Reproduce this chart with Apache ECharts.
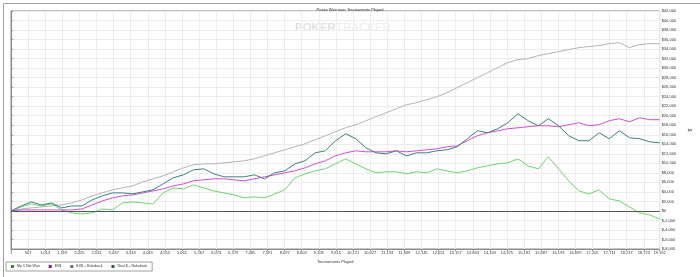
<!DOCTYPE html>
<html>
<head>
<meta charset="utf-8">
<script src="https://cdn.jsdelivr.net/npm/echarts@6/dist/echarts.min.js"></script>
<style>
html,body{margin:0;padding:0;background:#fff;}
#c{width:700px;height:277px;}
</style>
</head>
<body>
<div id="c"></div>
<script>
// Tournament numbers at which values were read
const tournaments = [1,301,601,901,1201,1501,1801,2101,2401,2701,3001,3301,3601,3901,4201,4501,4801,5101,5401,5701,6001,6301,6601,6901,7201,7501,7801,8101,8401,8701,9001,9301,9601,9901,10201,10501,10801,11101,11401,11701,12001,12301,12601,12901,13201,13501,13801,14101,14401,14701,15001,15301,15601,15901,16201,16501,16801,17101,17401,17701,18001,18301,18601,18901,19192];

const seriesNames = ["My C Net Won","EV$","EV$ + Rakeback","Real $ + Rakeback"];

const myCNetWon = [0,840,1470,1050,1470,210,-420,-630,-420,420,210,1680,1890,1680,1470,3790,4840,4630,5470,4840,4210,3790,3370,2740,2950,2740,3580,4420,6950,7790,8420,8840,9890,10950,9890,8840,8000,8210,8210,7790,8210,8000,8840,8420,8000,8420,9050,9470,9890,10100,10950,9470,8840,11370,8840,6320,4210,3580,4420,2530,2100,840,-420,-840,-1680];

const evDollars = [0,210,210,210,210,210,210,420,1260,2100,2740,3160,3370,3790,4210,4630,5260,5680,6320,6530,6740,6740,6530,6320,6740,7160,7580,8000,8420,9050,9890,10530,11580,12210,12630,12420,12420,12420,12630,12420,12630,12840,13050,13470,13680,14740,15790,16420,16840,17260,17470,17680,17890,17890,17680,18100,18520,17890,18100,18950,19370,18730,19580,19160,19160];

const evPlusRakeback = [0,400,630,840,1050,1260,1680,2320,3160,3790,4420,4840,5260,6100,6740,7370,8210,9050,9680,9890,9890,10100,10310,10530,10950,11580,12210,12840,13470,14100,14950,15790,16630,17470,18100,18950,19790,20630,21470,22310,22730,23370,24000,24840,25890,26940,28000,29050,30100,31150,31790,32000,32630,33050,33470,33890,34310,34520,34730,35150,35360,34310,34940,35150,35150];

const realPlusRakeback = [0,1050,1890,1260,1680,630,1050,1050,2320,3160,3790,3790,3580,4000,4420,5680,6950,7580,8630,8840,7790,7160,7160,7160,7580,6740,8000,8420,9890,10530,12210,12630,14740,16210,15160,13260,12210,12000,12630,11580,12210,12210,12630,12840,13470,15160,16840,16420,17260,18520,20420,18950,17890,19370,17890,15790,14740,14740,16420,15160,16840,15370,15160,14520,14310];

const lineColors = ["#6fd36f","#d050d0","#b4b4b4","#3f7f82"];
const legendColors = ["#2f8f2f","#8e1a8e","#6e6e6e","#2f5a5a"];

const allValues = [myCNetWon, evDollars, evPlusRakeback, realPlusRakeback];

const FONT = "Liberation Sans";
const chart = echarts.init(document.getElementById('c'), null, {renderer:'canvas'});

const series = allValues.map((vals, i) => ({
  name: seriesNames[i],
  type: 'line',
  data: tournaments.map((t, j) => [t - 1, vals[j]]),
  showSymbol: false,
  symbol: 'none',
  lineStyle: {color: lineColors[i], width: 1},
  itemStyle: {color: lineColors[i]},
  z: i === 2 ? 2 : 3,
  animation: false
}));
series[0].markLine = {
  silent: true, symbol: 'none', label: {show: false},
  lineStyle: {color: '#555', width: 1, type: 'solid'},
  data: [{yAxis: 0}], animation: false
};

chart.setOption({
  animation: false,
  backgroundColor: '#fff',
  textStyle: {fontFamily: FONT},
  title: {
    text: 'Prizes Won over Tournaments Played',
    left: 'center', top: 3,
    textStyle: {fontSize: 4, fontWeight: 'normal', color: '#333', fontFamily: FONT}
  },
  graphic: [
    {type: 'rect', left: 1, top: 1, shape: {width: 697, height: 274},
     style: {fill: 'none', stroke: '#a0a0a0', lineWidth: 1}, z: 0, silent: true},
    {type: 'text', left: 295, top: 22, z: 0, silent: true,
     style: {text: '{a|POKER}{b|TRACKER}', rich: {
       a: {fontSize: 11.5, fontWeight: 'bold', fill: '#e2e2e2', fontFamily: FONT},
       b: {fontSize: 11.5, fontWeight: 'normal', fill: '#ebebeb', fontFamily: FONT}
     }}}
  ],
  legend: {
    left: 6, top: 262,
    orient: 'horizontal',
    icon: 'rect', itemWidth: 3, itemHeight: 3, itemGap: 9,
    padding: [2.5, 5],
    borderColor: '#a0a0a0', borderWidth: 1,
    textStyle: {fontSize: 3.5, color: '#333', fontFamily: FONT, padding: [0, 0, 0, -2]},
    data: seriesNames.map((n, i) => ({name: n, itemStyle: {color: legendColors[i]}}))
  },
  grid: {
    left: 11, right: 30, top: 11, bottom: 28,
    show: true, borderColor: '#8c8c8c', borderWidth: 1, containLabel: false
  },
  xAxis: {
    type: 'value', min: 0, max: 19191, interval: 506,
    name: 'Tournaments Played', nameLocation: 'middle', nameGap: 7,
    nameTextStyle: {fontSize: 4, color: '#333', fontFamily: FONT},
    axisLine: {onZero: false, lineStyle: {color: '#8c8c8c'}},
    axisTick: {show: true, length: 2, lineStyle: {color: '#8c8c8c'}},
    axisLabel: {fontSize: 4, color: '#333', margin: 2, fontFamily: FONT,
      formatter: v => (v + 1).toLocaleString('en-US')},
    splitLine: {show: true, lineStyle: {color: '#ececec', width: 1}}
  },
  yAxis: {
    type: 'value', position: 'right', min: -8000, max: 42000, interval: 2000,
    name: '$', nameLocation: 'middle', nameGap: 18, nameRotate: -90,
    nameTextStyle: {fontSize: 4.5, color: '#333', fontFamily: FONT},
    axisLine: {show: true, lineStyle: {color: '#8c8c8c'}},
    axisTick: {show: true, length: 2, lineStyle: {color: '#8c8c8c'}},
    axisLabel: {fontSize: 4, color: '#333', margin: 2, fontFamily: FONT,
      formatter: v => '$' + v.toLocaleString('en-US')},
    splitLine: {show: true, lineStyle: {color: '#ececec', width: 1}}
  },
  series: series
});
</script>
</body>
</html>
